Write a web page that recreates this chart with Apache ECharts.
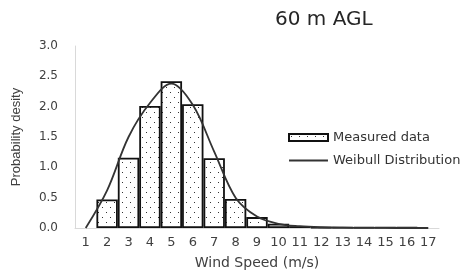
<!DOCTYPE html>
<html>
<head>
<meta charset="utf-8">
<script src="https://cdn.jsdelivr.net/npm/echarts@6/dist/echarts.min.js"></script>
<style>
html,body{margin:0;padding:0;background:#fff}
#chart{width:470px;height:275px}
</style>
</head>
<body>
<div id="chart"></div>
<script>
let speeds=['1','2','3','4','5','6','7','8','9','10','11','12','13','14','15','16','17']
let measured=[0,0.47,1.16,2.01,2.42,2.04,1.15,0.48,0.18,0.07,0.03,0.01,0.01,0.01,0.01,0.01,0]
let weibull=[0,0.62,1.5,2.06,2.38,2.03,1.26,0.5,0.19,0.07,0.03,0.012,0.005,0.002,0.001,0,0]
let yTicks=[0,0.5,1,1.5,2,2.5,3]

// dotted fill like the excel pattern
let pat=document.createElement('canvas')
pat.width=8
pat.height=10
let ctx=pat.getContext('2d')
ctx.fillStyle='#fff'
ctx.fillRect(0,0,8,10)
ctx.fillStyle='#333'
ctx.fillRect(2,2,1,1)
ctx.fillRect(6,7,1,1)

let font='DejaVu Sans'
// legend line icon: 2px bar in the middle of a 7px tall box
let lineIcon='path://M0,0L39,0L39,0.01L0,0.01Z M0,2.6L39,2.6L39,4.4L0,4.4Z M0,7L39,7L39,7.01L0,7.01Z'
var myChart=echarts.init(document.getElementById('chart'))
var option={
    animation:false,
    title:{
        text:'60 m AGL',
        left:270,
        top:5,
        textStyle:{fontFamily:font,fontSize:20,fontWeight:'normal',color:'#262626'}
    },
    legend:{
        orient:'vertical',
        left:288,
        top:131,
        padding:0,
        itemGap:10,
        itemWidth:39,
        itemHeight:7,
        textStyle:{fontFamily:font,fontSize:13,color:'#333'},
        data:[{name:'Measured data',icon:'rect'},{name:'Weibull Distribution',icon:lineIcon}]
    },
    grid:{left:75,right:31,top:46,bottom:46},
    xAxis:{
        type:'category',
        data:speeds,
        boundaryGap:true,
        name:'Wind Speed (m/s)',
        nameLocation:'middle',
        nameGap:28,
        nameTextStyle:{fontFamily:font,fontSize:14,color:'#404040'},
        axisLine:{lineStyle:{color:'#d9d9d9'}},
        axisTick:{show:false},
        axisLabel:{interval:0,fontFamily:font,fontSize:13,color:'#404040',margin:8}
    },
    yAxis:{
        type:'value',
        min:yTicks[0],
        max:yTicks[yTicks.length-1],
        interval:0.5,
        name:'Probability desity',
        nameLocation:'middle',
        nameGap:52,
        nameTextStyle:{fontFamily:'Liberation Sans',fontSize:13,color:'#404040'},
        axisLine:{show:true,lineStyle:{color:'#d9d9d9'}},
        axisTick:{show:false},
        splitLine:{show:false},
        axisLabel:{fontFamily:font,fontSize:12,color:'#404040',margin:17,
            formatter:function(v){return v.toFixed(1)}}
    },
    series:[{
        name:'Measured data',
        type:'bar',
        barCategoryGap:'0%',
        data:measured.map(function(v){return v>0?v:'-'}),
        itemStyle:{
            color:{image:pat,repeat:'repeat'},
            borderColor:'#111',
            borderWidth:1.8
        }
    },{
        name:'Weibull Distribution',
        type:'line',
        data:weibull,
        smooth:0.35,
        symbol:'none',
        lineStyle:{color:'#333',width:1.8},
        itemStyle:{color:'#333'}
    }]
}
myChart.setOption(option)
</script>
</body>
</html>
